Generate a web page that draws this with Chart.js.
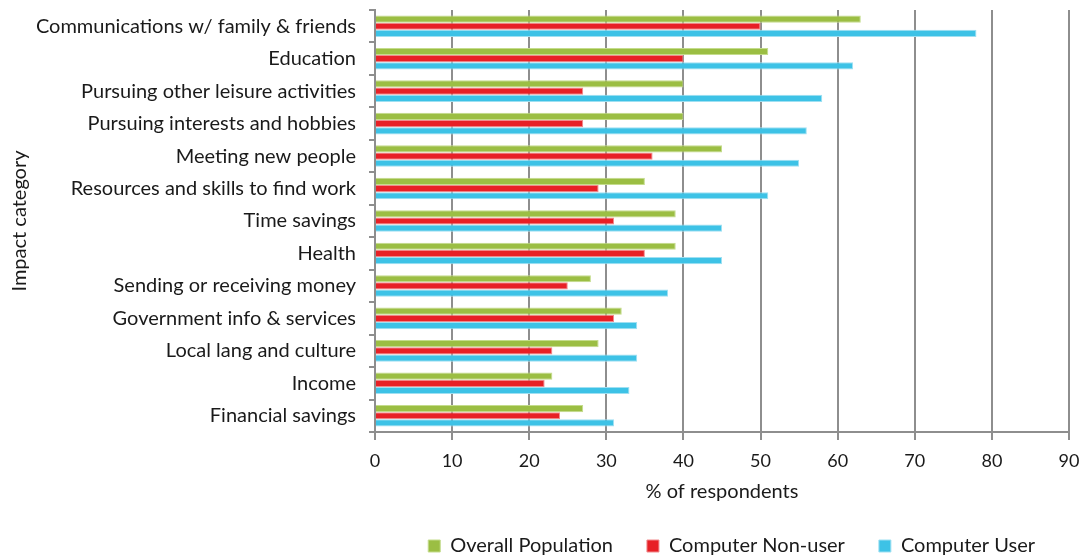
<!DOCTYPE html>
<html>
<head>
<meta charset="utf-8">
<script src="https://cdn.jsdelivr.net/npm/chart.js@4/dist/chart.umd.min.js"></script>
<style>
  html, body { margin: 0; padding: 0; background: #ffffff; }
  #wrap { width: 1084px; height: 559px; }
</style>
</head>
<body>
<div id="wrap"><canvas id="chart" width="1084" height="559"></canvas></div>
<script>
// Impact categories, top to bottom
const categories = [
  "Communications w/ family & friends",
  "Education",
  "Pursuing other leisure activities",
  "Pursuing interests and hobbies",
  "Meeting new people",
  "Resources and skills to find work",
  "Time savings",
  "Health",
  "Sending or receiving money",
  "Government info & services",
  "Local lang and culture",
  "Income",
  "Financial savings"
];

// % of respondents per group
const overallPopulation = [63, 51, 40, 40, 45, 35, 39, 39, 28, 32, 29, 23, 27];
const computerNonUser   = [50, 40, 27, 27, 36, 29, 31, 35, 25, 31, 23, 22, 24];
const computerUser      = [78, 62, 58, 56, 55, 51, 45, 45, 38, 34, 34, 33, 31];

const seriesNames = ["Overall Population", "Computer Non-user", "Computer User"];
const xTicks = [0, 10, 20, 30, 40, 50, 60, 70, 80, 90];

const FONT = "Lato, 'Open Sans', sans-serif";
const TEXT = "#1a1a1a";
const GRID = "#8e8e8e";

new Chart(document.getElementById("chart"), {
  type: "bar",
  data: {
    labels: categories,
    datasets: [
      { label: seriesNames[0], data: overallPopulation, backgroundColor: "#9bbe43", borderColor: "#c4dc8c", borderWidth: 1 },
      { label: seriesNames[1], data: computerNonUser,   backgroundColor: "#e72026", borderColor: "#f08a8d", borderWidth: 1 },
      { label: seriesNames[2], data: computerUser,      backgroundColor: "#3dc2e6", borderColor: "#9fe0f2", borderWidth: 1 }
    ]
  },
  options: {
    indexAxis: "y",
    responsive: false,
    animation: false,
    devicePixelRatio: 1,
    layout: { padding: { left: 0, right: 15, top: 10, bottom: 0 } },
    datasets: { bar: { categoryPercentage: 0.665, barPercentage: 1.0 } },
    scales: {
      x: {
        min: 0,
        max: 90,
        afterBuildTicks: (scale) => { scale.ticks = xTicks.map(v => ({ value: v })); },
        afterFit: (scale) => {
          scale.height = 70;
          scale.paddingLeft = 0;
          scale.paddingRight = 0;
        },
        grid: { color: GRID, lineWidth: 2, tickLength: 8, drawTicks: true },
        border: { color: GRID, width: 2 },
        ticks: { color: TEXT, font: { family: FONT, size: 18 }, padding: 10, maxRotation: 0 },
        title: {
          display: true,
          text: "% of respondents",
          color: TEXT,
          font: { family: FONT, size: 20, lineHeight: 1.0 },
          padding: { top: 0, bottom: 0 }
        }
      },
      y: {
        afterFit: (scale) => {
          scale.width = 375;
          scale.paddingTop = 0;
          scale.paddingBottom = 0;
        },
        grid: { offset: true, drawOnChartArea: false, color: GRID, lineWidth: 2, tickLength: 6 },
        border: { color: GRID, width: 2 },
        ticks: { color: TEXT, font: { family: FONT, size: 20 }, padding: 13, autoSkip: false },
        title: {
          display: true,
          text: "Impact category",
          color: TEXT,
          font: { family: FONT, size: 20, lineHeight: 1.0 },
          padding: { top: 10, bottom: 0 }
        }
      }
    },
    plugins: {
      tooltip: { enabled: false },
      legend: {
        position: "bottom",
        align: "end",
        maxHeight: 57,
        labels: {
          color: TEXT,
          font: { family: FONT, size: 20 },
          boxWidth: 12,
          boxHeight: 12,
          padding: 34
        }
      }
    }
  }
});
</script>
</body>
</html>
